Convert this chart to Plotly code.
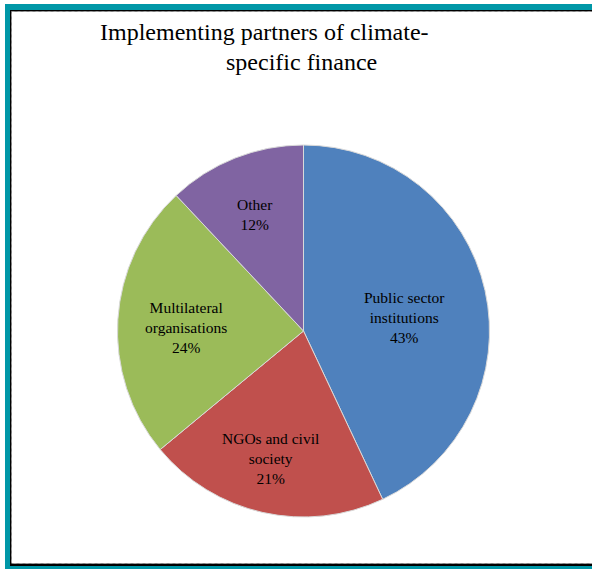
import math
import plotly.graph_objects as go

labels = ["Public sector<br>institutions", "NGOs and civil<br>society", "Multilateral<br>organisations", "Other"]
values = [43, 21, 24, 12]
colors = ["#4F81BD", "#C0504D", "#9BBB59", "#8064A2"]
title_lines = ["Implementing partners of climate-", "specific finance"]

W, H = 592, 569
def px(x):
    return x / W
def py(y):
    return 1 - y / H

# pie geometry (pixels)
CX, CY, R = 303.5, 331.0, 186.0
label_r_frac = [0.55, 0.71, 0.63, 0.68]
label_angle_adj = [5, 2, -2, -1]

fig = go.Figure()
fig.add_trace(go.Pie(
    labels=labels, values=values, sort=False, direction="clockwise", rotation=0,
    marker=dict(colors=colors, line=dict(color="#d9d9d9", width=1)),
    textinfo="none",
    showlegend=False, hoverinfo="label+percent",
    domain=dict(x=[px(CX - R), px(CX + R)], y=[py(CY + R), py(CY - R)]),
))

shapes = [
    dict(type="rect", xref="paper", yref="paper", x0=px(5), x1=px(620), y0=py(4), y1=py(590),
         fillcolor="#0097A7", line=dict(width=0), layer="below"),
    dict(type="rect", xref="paper", yref="paper", x0=px(10), x1=px(620), y0=py(10), y1=py(566),
         fillcolor="black", line=dict(width=0), layer="below"),
    dict(type="rect", xref="paper", yref="paper", x0=px(11.5), x1=px(620), y0=py(11.5), y1=py(563.5),
         fillcolor="white", line=dict(color="#9a9a9a", width=1, dash="dot"), layer="below"),
]

annotations = [
    dict(text=title_lines[0], x=px(264), y=py(32), xref="paper", yref="paper",
         showarrow=False, xanchor="center", yanchor="middle",
         font=dict(family="Liberation Serif", size=24, color="black")),
    dict(text=title_lines[1], x=px(301), y=py(62), xref="paper", yref="paper",
         showarrow=False, xanchor="center", yanchor="middle",
         font=dict(family="Liberation Serif", size=24, color="black")),
]

total = sum(values)
cum = 0
for i, (lab, v) in enumerate(zip(labels, values)):
    mid = (cum + v / 2) / total * 360 + label_angle_adj[i]
    cum += v
    r = label_r_frac[i] * R
    lx = CX + r * math.sin(math.radians(mid))
    ly = CY - r * math.cos(math.radians(mid))
    annotations.append(dict(
        text=f"{lab}<br>{round(v / total * 100)}%", x=px(lx), y=py(ly),
        xref="paper", yref="paper", showarrow=False, xanchor="center", yanchor="middle",
        align="center", font=dict(family="Liberation Serif", size=15.5, color="black")))

fig.update_layout(
    width=W, height=H, margin=dict(l=0, r=0, t=0, b=0),
    paper_bgcolor="white", plot_bgcolor="white",
    shapes=shapes, annotations=annotations,
)
fig.write_html("out.html", config={"displayModeBar": False},
               post_script="document.body.style.margin='0px';")
